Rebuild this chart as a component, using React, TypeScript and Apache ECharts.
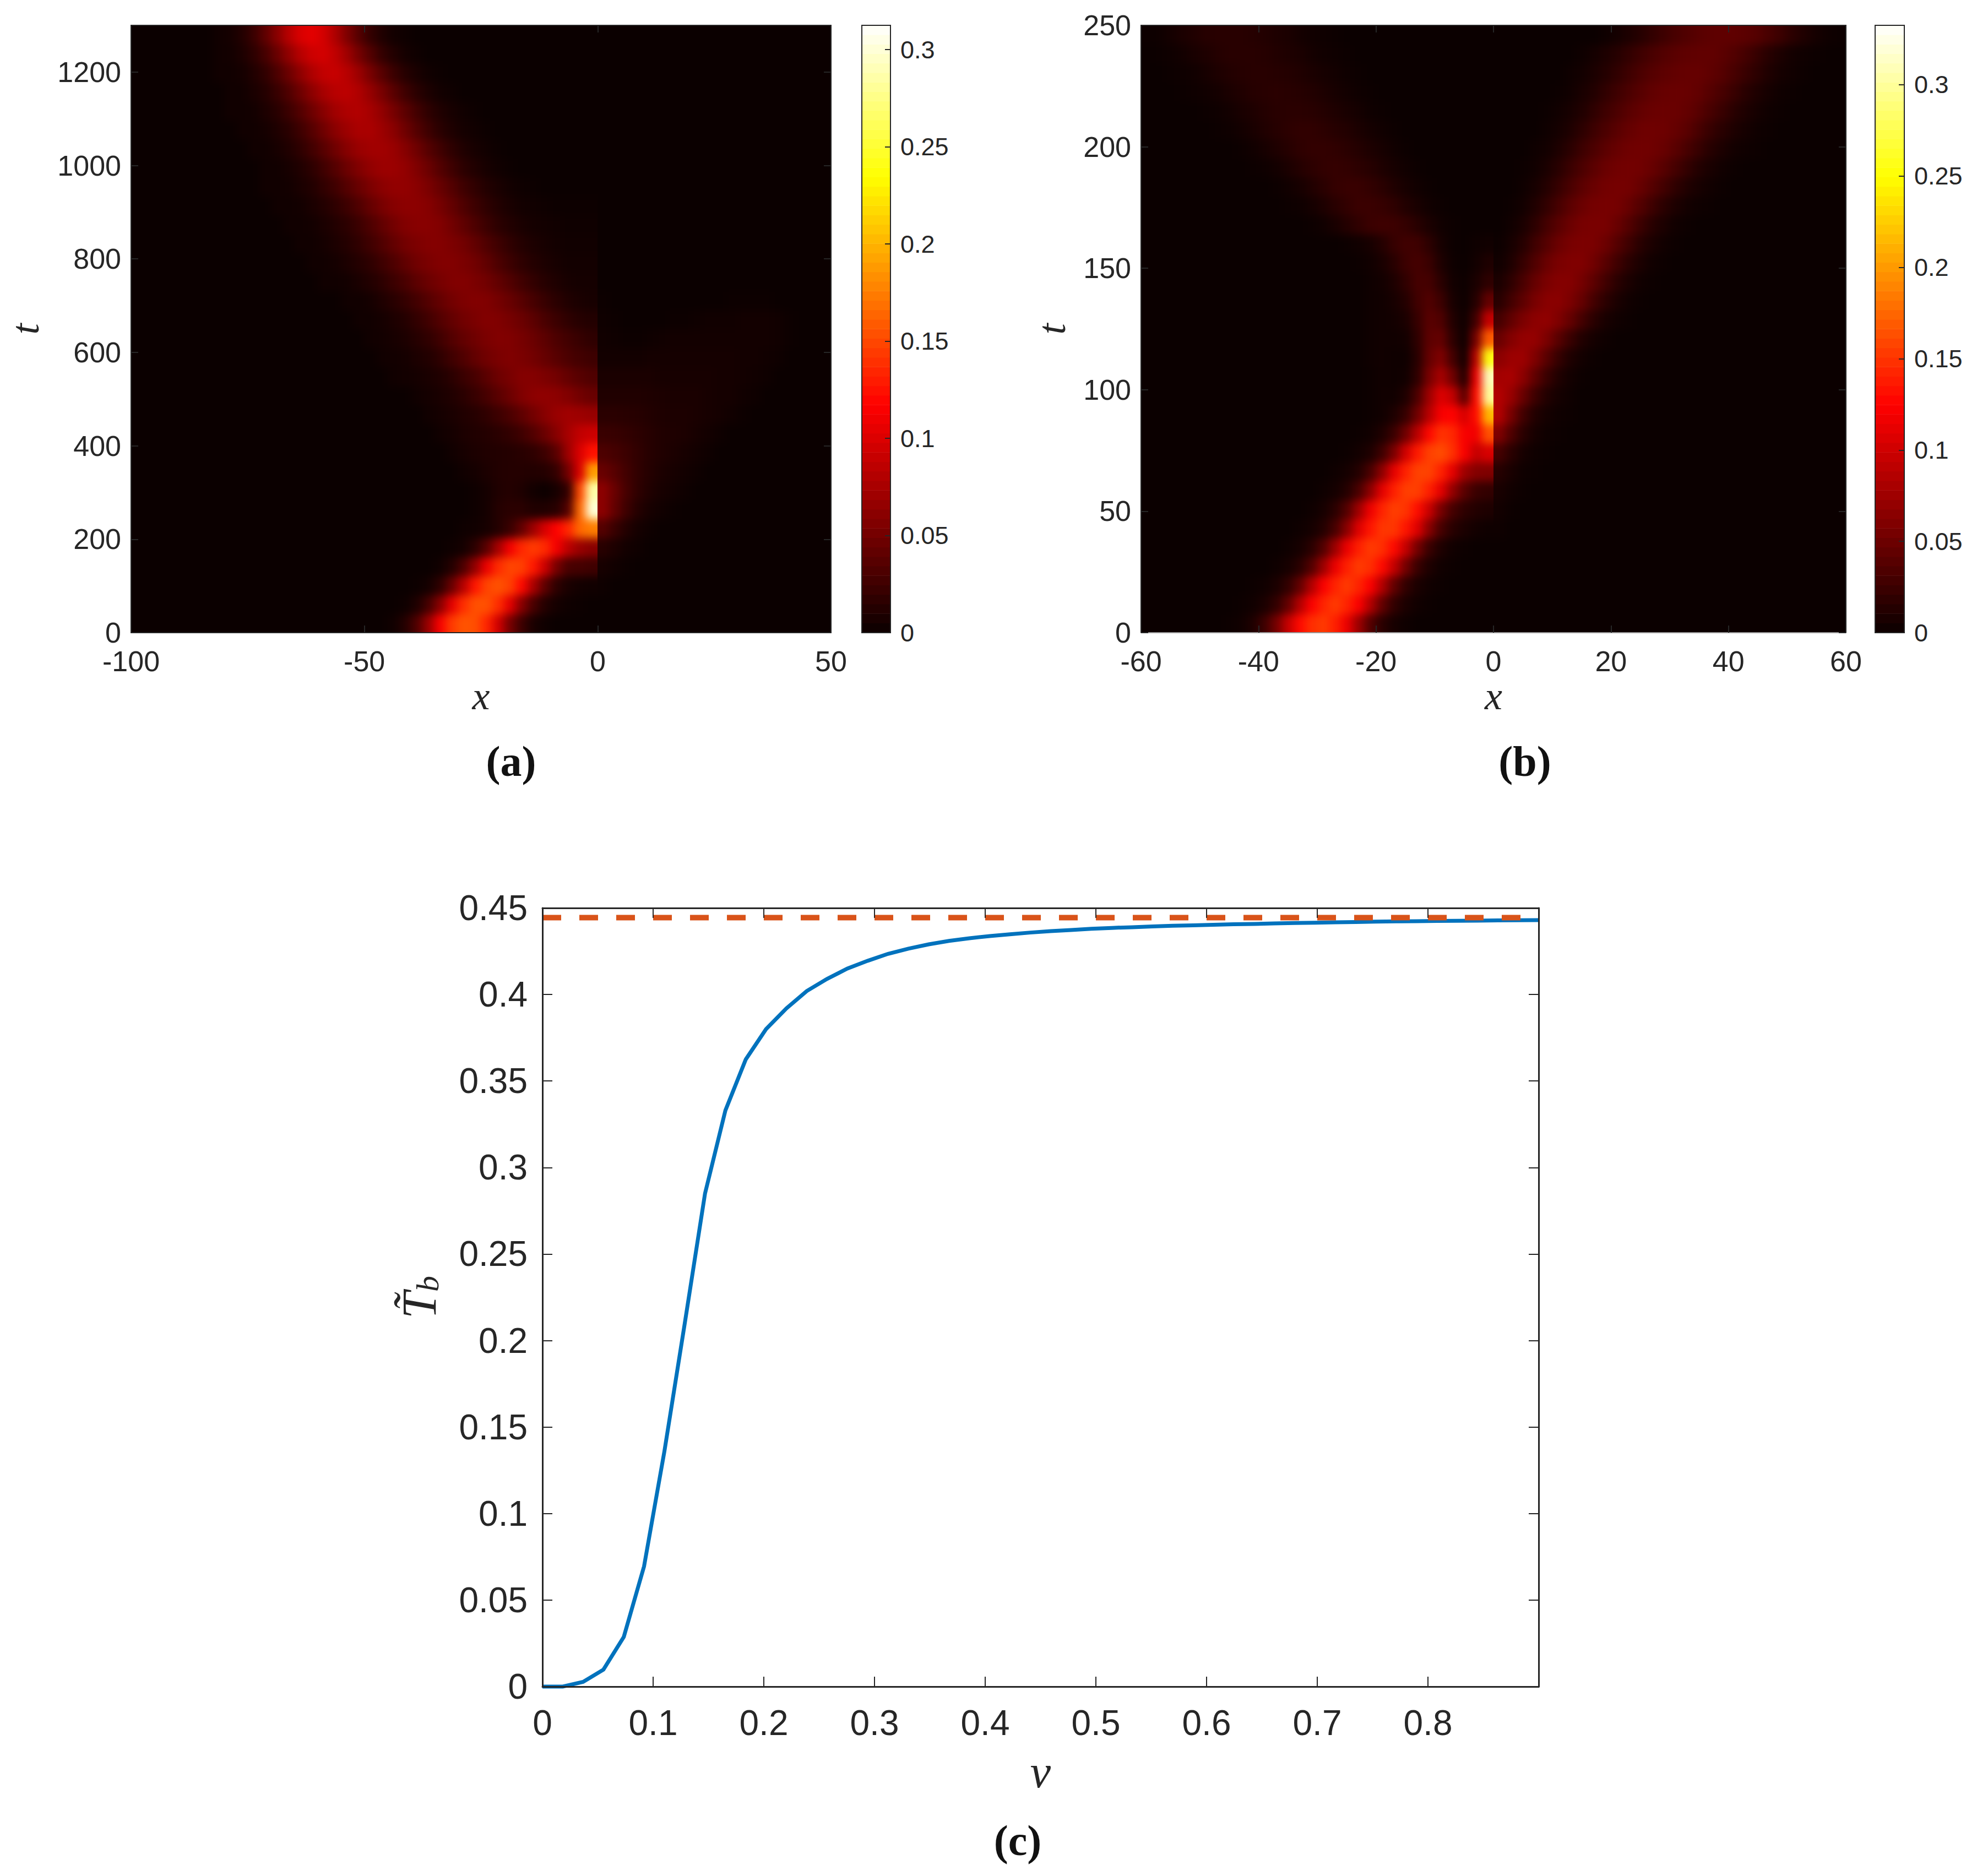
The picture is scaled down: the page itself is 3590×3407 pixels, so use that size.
import React, { useEffect, useRef } from "react";
import * as echarts from "echarts";

// ---------- colour map (MATLAB "hot") ----------
const HOT = ["#0b0000", "#5c0000", "#ae0000", "#ff0000", "#ff5500", "#ffaa00", "#ffff00", "#ffff80", "#ffffff"];

// ---------- panel (a): |field| in thousandths, rows bottom (t≈20) to top (t≈1280); [firstColumn, ...values]
const A_MAX = 0.3125;
const A_LEFT_COLS = 40; // x from -100 to 0
const A_RIGHT_COLS = 20; // x from 0 to 50
const A_LEFT: number[][] = [
  [22, 3, 12, 33, 68, 114, 144, 156, 153, 134, 95, 52, 24, 7, 2],
  [23, 2, 9, 28, 60, 104, 138, 154, 154, 138, 104, 60, 30, 12, 5, 2, 1],
  [24, 1, 5, 17, 45, 82, 127, 148, 155, 146, 121, 76, 40, 17, 7, 4, 3],
  [26, 3, 12, 32, 65, 108, 137, 149, 146, 128, 92, 52, 30, 28, 25],
  [27, 2, 5, 16, 38, 74, 112, 135, 144, 136, 112, 85, 68, 60],
  [28, 2, 3, 6, 12, 22, 42, 70, 98, 118, 135, 165, 175],
  [29, 2, 5, 12, 15, 15, 10, 10, 14, 35, 165, 300],
  [29, 2, 5, 10, 12, 9, 4, 1, 6, 20, 150, 285],
  [28, 3, 5, 8, 11, 12, 12, 11, 12, 20, 50, 100, 190],
  [27, 3, 6, 8, 10, 11, 12, 14, 17, 24, 38, 70, 100, 125],
  [26, 3, 5, 8, 10, 12, 15, 19, 25, 34, 46, 60, 75, 88, 92],
  [25, 3, 5, 7, 10, 13, 18, 24, 31, 40, 50, 60, 68, 72, 70, 67],
  [24, 3, 5, 7, 10, 15, 21, 29, 38, 47, 56, 62, 64, 62, 57, 50, 45],
  [22, 3, 4, 5, 7, 10, 15, 22, 29, 38, 47, 53, 58, 58, 55, 50, 43, 37, 33],
  [21, 3, 4, 5, 8, 11, 17, 25, 33, 42, 49, 54, 56, 54, 50, 44, 37, 31, 27, 24],
  [20, 3, 4, 6, 8, 13, 18, 25, 34, 42, 48, 54, 57, 56, 52, 46, 39, 32, 26, 21, 17],
  [19, 3, 3, 5, 8, 12, 19, 26, 34, 42, 49, 54, 57, 56, 52, 46, 39, 30, 23, 17, 13, 11],
  [18, 3, 3, 5, 9, 14, 20, 27, 35, 43, 50, 55, 57, 56, 51, 45, 37, 29, 21, 15, 10, 7, 6],
  [16, 3, 3, 4, 7, 11, 16, 23, 30, 39, 46, 52, 56, 57, 54, 49, 42, 34, 26, 19, 13, 9, 6, 5, 5],
  [15, 3, 3, 5, 8, 12, 17, 24, 32, 41, 49, 54, 57, 57, 54, 49, 41, 32, 24, 17, 12, 8, 6, 4, 4, 4],
  [14, 3, 3, 5, 8, 12, 18, 25, 33, 42, 50, 55, 58, 58, 55, 50, 42, 33, 25, 18, 12, 8, 6, 4, 3, 3, 3],
  [13, 3, 3, 4, 7, 11, 16, 23, 32, 41, 50, 57, 60, 60, 57, 50, 41, 32, 23, 16, 11, 7, 5, 4, 3, 2, 2, 2],
  [12, 3, 3, 4, 7, 11, 17, 24, 33, 43, 52, 59, 62, 62, 59, 52, 43, 33, 24, 17, 11, 7, 4, 3, 2, 1, 1, 1, 1],
  [11, 3, 3, 4, 7, 11, 18, 25, 35, 45, 54, 61, 65, 65, 61, 54, 45, 35, 25, 18, 11, 7, 4, 2, 1],
  [11, 3, 3, 6, 10, 16, 25, 35, 46, 56, 65, 69, 69, 65, 56, 46, 35, 25, 16, 10, 6, 3, 1],
  [10, 3, 3, 6, 10, 17, 26, 36, 48, 59, 68, 72, 72, 68, 59, 48, 36, 26, 17, 10, 6, 3, 1],
  [9, 3, 3, 5, 9, 15, 24, 35, 48, 61, 70, 76, 76, 70, 61, 48, 35, 24, 15, 9, 5, 3, 1],
  [8, 3, 3, 4, 8, 14, 23, 34, 47, 60, 72, 78, 80, 75, 65, 52, 39, 27, 17, 10, 6, 3, 1],
  [8, 3, 3, 7, 12, 21, 33, 47, 62, 75, 83, 85, 79, 67, 53, 38, 25, 15, 8, 4, 2],
  [7, 3, 3, 5, 10, 18, 31, 46, 63, 78, 88, 90, 83, 70, 53, 37, 23, 13, 7, 3, 1],
  [7, 3, 4, 8, 16, 28, 45, 64, 82, 93, 96, 87, 72, 52, 35, 20, 11, 5, 2],
  [7, 3, 5, 11, 22, 40, 60, 82, 99, 104, 96, 78, 56, 36, 20, 10, 4, 2],
];
const A_RIGHT: number[][] = [
  [0], [0], [0, 2], [0, 6, 3, 1], [0, 14, 8, 4, 2], [0, 35, 22, 11, 5, 2],
  [0, 62, 42, 24, 12, 6, 3, 1],
  [0, 62, 45, 28, 17, 10, 6, 4, 2],
  [0, 45, 36, 26, 18, 12, 8, 6, 4, 2],
  [0, 32, 28, 23, 18, 13, 10, 8, 6, 4, 2],
  [0, 22, 21, 19, 16, 13, 10, 9, 8, 6, 4, 2],
  [0, 15, 15, 14, 13, 11, 9, 8, 8, 7, 6, 5, 3, 1],
  [0, 10, 10, 10, 10, 9, 8, 7, 7, 7, 6, 5, 5, 3, 2],
  [0, 7, 7, 7, 7, 7, 6, 6, 6, 6, 6, 5, 5, 4, 3, 2],
  [0, 4, 4, 4, 4, 5, 5, 5, 5, 5, 5, 5, 5, 4, 4, 3, 2],
  [0, 3, 2, 1, 1, 2, 3, 4, 4, 4, 4, 4, 4, 4, 4, 4, 3, 1],
  [0, 2, 1, 0, 0, 0, 0, 1, 1, 2, 3, 3, 3, 4, 4, 4, 3, 1],
  [0, 1, 0, 0, 0, 0, 0, 0, 0, 0, 0, 0, 1, 1, 1, 1],
  [0], [0], [0], [0], [0], [0], [0], [0], [0], [0], [0], [0], [0], [0],
];

// ---------- panel (b) ----------
const B_MAX = 0.3325;
const B_LEFT_COLS = 30; // x from -60 to 0
const B_RIGHT_COLS = 30; // x from 0 to 60
const B_LEFT: number[][] = [
  [7, 1, 3, 10, 26, 54, 95, 129, 147, 153, 140, 115, 74, 37, 16, 6, 2],
  [8, 1, 3, 8, 20, 45, 85, 123, 142, 153, 142, 123, 85, 45, 20, 8, 3, 1],
  [9, 1, 3, 8, 20, 45, 85, 123, 142, 153, 142, 123, 85, 45, 20, 8, 3, 1],
  [11, 2, 6, 16, 37, 74, 115, 140, 153, 147, 129, 95, 54, 24, 10, 3, 1],
  [12, 2, 6, 16, 37, 74, 115, 140, 153, 147, 129, 95, 54, 24, 10, 3, 1],
  [13, 2, 5, 13, 31, 64, 108, 135, 151, 151, 135, 108, 64, 31, 15, 8, 4, 2],
  [14, 2, 6, 16, 37, 75, 117, 142, 155, 150, 131, 97, 56, 30, 18, 12, 9],
  [15, 2, 5, 13, 32, 66, 111, 140, 155, 155, 140, 111, 70, 40, 24, 20],
  [16, 2, 5, 13, 32, 67, 112, 141, 157, 157, 141, 112, 75, 62, 60],
  [17, 1, 4, 10, 26, 57, 101, 137, 156, 162, 148, 122, 95, 105],
  [18, 1, 3, 10, 24, 51, 88, 128, 149, 144, 121, 118, 165],
  [19, 1, 3, 9, 22, 51, 88, 121, 126, 104, 130, 215],
  [19, 1, 3, 3, 10, 33, 75, 108, 94, 40, 130, 300],
  [19, 1, 3, 2, 3, 18, 56, 80, 52, 12, 115, 310],
  [19, 2, 3, 2, 2, 15, 46, 60, 30, 4, 90, 255],
  [19, 2, 3, 3, 4, 18, 42, 45, 18, 2, 55, 170],
  [19, 2, 3, 4, 8, 22, 40, 35, 12, 2, 28, 95],
  [19, 2, 3, 6, 13, 27, 36, 25, 7, 1, 14, 45],
  [19, 2, 4, 9, 19, 30, 30, 16, 4, 1, 8, 18],
  [18, 1, 3, 7, 15, 25, 30, 24, 10, 2, 0, 4, 10],
  [17, 1, 3, 6, 13, 22, 27, 26, 17, 6, 1, 0, 2, 3],
  [14, 1, 3, 7, 13, 19, 24, 26, 25, 21, 15, 8, 3, 1],
  [12, 1, 2, 5, 9, 15, 20, 24, 24, 22, 18, 12, 7, 3, 1],
  [11, 1, 3, 6, 11, 16, 21, 23, 23, 20, 16, 11, 6, 3, 1],
  [9, 1, 2, 4, 8, 13, 17, 20, 21, 20, 17, 14, 10, 6, 3, 1],
  [8, 1, 3, 6, 10, 14, 18, 20, 20, 19, 16, 13, 9, 6, 3, 1],
  [6, 1, 2, 4, 7, 11, 14, 17, 19, 19, 17, 14, 12, 8, 5, 3, 1],
  [5, 1, 2, 4, 7, 10, 13, 15, 16, 16, 15, 13, 10, 7, 5, 2, 1],
  [3, 1, 2, 3, 5, 8, 11, 14, 15, 16, 15, 14, 12, 9, 6, 4, 2, 1],
  [2, 1, 2, 3, 6, 9, 12, 14, 15, 15, 14, 13, 11, 8, 6, 4, 2, 1],
  [1, 1, 2, 4, 7, 10, 13, 15, 15, 15, 14, 12, 10, 8, 5, 3, 2, 1],
  [0, 1, 2, 5, 8, 11, 14, 15, 15, 15, 14, 12, 10, 8, 5, 3, 2, 1],
];
const B_RIGHT: number[][] = [
  [0], [0], [0], [0], [0],
  [0, 2],
  [0, 4, 1],
  [0, 7, 3, 1],
  [0, 14, 7, 2, 1],
  [0, 30, 16, 6, 2, 1],
  [0, 60, 35, 16, 6, 2, 1],
  [0, 85, 55, 28, 12, 5, 2, 1],
  [0, 85, 72, 48, 26, 12, 5, 2],
  [0, 78, 80, 66, 44, 24, 11, 4, 1],
  [0, 66, 74, 74, 60, 40, 22, 10, 4, 1],
  [0, 48, 62, 70, 70, 58, 40, 24, 12, 5, 2],
  [0, 30, 44, 58, 66, 68, 60, 46, 30, 16, 7, 3, 1],
  [0, 15, 28, 42, 56, 64, 65, 58, 46, 30, 17, 8, 3, 1],
  [0, 8, 18, 32, 46, 57, 62, 62, 54, 42, 28, 16, 8, 3, 1],
  [0, 3, 10, 22, 35, 48, 57, 60, 60, 52, 40, 27, 16, 8, 3, 1],
  [0, 1, 6, 14, 26, 38, 49, 56, 58, 57, 50, 38, 26, 15, 8, 3, 1],
  [0, 0, 3, 8, 17, 29, 40, 49, 55, 57, 56, 48, 37, 25, 15, 8, 3, 1],
  [0, 0, 1, 4, 11, 20, 31, 41, 49, 54, 55, 54, 47, 37, 26, 16, 9, 4, 2, 1],
  [0, 0, 0, 2, 6, 13, 22, 32, 41, 48, 53, 54, 53, 47, 38, 28, 18, 11, 6, 3, 1],
  [0, 0, 0, 1, 3, 8, 15, 24, 33, 41, 48, 52, 53, 52, 47, 39, 30, 20, 12, 7, 3, 1],
  [0, 0, 0, 0, 2, 4, 9, 16, 25, 33, 41, 47, 51, 52, 51, 47, 40, 31, 22, 14, 8, 4, 2, 1],
  [0, 0, 0, 0, 0, 2, 5, 10, 17, 25, 33, 40, 46, 50, 51, 50, 46, 40, 31, 22, 15, 9, 5, 2, 1],
  [0, 0, 0, 0, 0, 1, 3, 6, 11, 18, 26, 33, 40, 45, 48, 49, 48, 45, 39, 31, 23, 15, 9, 5, 2, 1],
  [0, 0, 0, 0, 0, 0, 1, 3, 7, 12, 19, 26, 33, 39, 44, 47, 48, 47, 44, 38, 31, 23, 15, 9, 5, 2, 1],
  [0, 0, 0, 0, 0, 0, 0, 2, 4, 8, 13, 19, 26, 33, 38, 42, 45, 46, 46, 43, 38, 31, 23, 16, 10, 5, 3, 1],
  [7, 2, 5, 9, 14, 20, 26, 32, 37, 41, 43, 44, 44, 41, 36, 29, 21, 14, 8, 4, 2, 1],
  [9, 2, 5, 9, 14, 20, 26, 32, 36, 40, 42, 43, 43, 41, 37, 31, 24, 16, 10, 5, 2, 1],
];

// ---------- panel (c) ----------
const V_VALUES = [0, 0.0184, 0.0367, 0.0551, 0.0735, 0.0918, 0.1102, 0.1286, 0.1469, 0.1653, 0.1837, 0.202, 0.2204, 0.2388, 0.2571, 0.2755, 0.2939, 0.3122, 0.3306, 0.349, 0.3673, 0.3857, 0.4041, 0.4224, 0.4408, 0.4592, 0.4776, 0.4959, 0.5143, 0.5327, 0.551, 0.5694, 0.5878, 0.6061, 0.6245, 0.6429, 0.6612, 0.6796, 0.698, 0.7163, 0.7347, 0.7531, 0.7714, 0.7898, 0.8082, 0.8265, 0.8449, 0.8633, 0.8816, 0.9];
const TB_VALUES = [0, 0, 0.0027, 0.0098, 0.0287, 0.0695, 0.136, 0.21, 0.285, 0.333, 0.3625, 0.38, 0.392, 0.402, 0.409, 0.415, 0.4195, 0.4235, 0.4265, 0.429, 0.431, 0.4325, 0.4338, 0.4348, 0.4358, 0.4366, 0.4373, 0.438, 0.4385, 0.4389, 0.4393, 0.4397, 0.44, 0.4403, 0.4406, 0.4408, 0.4411, 0.4413, 0.4415, 0.4417, 0.4419, 0.4421, 0.4423, 0.4424, 0.4425, 0.4426, 0.4427, 0.4428, 0.4429, 0.443];
const TB_LIMIT = 0.4444;

// ---------- layout ----------
const INK = "#262626";
const SANS = "Liberation Sans";
const SERIF = "Liberation Serif";
const A = { left: 238, top: 46, width: 1271, height: 1103 };
const B = { left: 2072, top: 46, width: 1280, height: 1103 };
const C = { left: 985, top: 1649, width: 1809, height: 1414 };
const CBA = { left: 1565, top: 46, width: 52, height: 1103 };
const CBB = { left: 3405, top: 46, width: 53, height: 1103 };
const A_ZERO = 1085;
const B_ZERO = 2712;
const BLUR = 8;

type Box = { left: number; top: number; width: number; height: number };

function Heat({ box, rows, cols, max }: { box: Box; rows: number[][]; cols: number; max: number }) {
  const ref = useRef<HTMLDivElement>(null);
  const nRows = rows.length;
  const cellW = box.width / cols;
  const cellH = box.height / nRows;
  useEffect(() => {
    if (!ref.current) return;
    const chart = echarts.init(ref.current, undefined, { renderer: "svg" });
    const dense = rows.map((r) => {
      const out = new Array(cols).fill(0);
      r.slice(1).forEach((v, i) => {
        out[r[0] + i] = v;
      });
      return out;
    });
    const data: number[][] = [];
    // one repeated cell round the edge lies outside the clip, so that the soft edge never shows
    for (let y = -1; y <= nRows; y++) {
      for (let x = -1; x <= cols; x++) {
        const yy = Math.min(nRows - 1, Math.max(0, y));
        const xx = Math.min(cols - 1, Math.max(0, x));
        data.push([x + 1, y + 1, dense[yy][xx] / 1000]);
      }
    }
    chart.setOption({
      animation: false,
      backgroundColor: "#0b0000",
      grid: { left: 0, right: 0, top: 0, bottom: 0 },
      xAxis: { type: "category", show: false, data: Array.from({ length: cols + 2 }, (_, i) => i) },
      yAxis: { type: "category", show: false, data: Array.from({ length: nRows + 2 }, (_, i) => i) },
      visualMap: { show: false, type: "continuous", min: 0, max, dimension: 2, inRange: { color: HOT } },
      series: [{ type: "heatmap", data, silent: true, progressive: 0 }],
    });
    return () => chart.dispose();
  }, []);
  return (
    <div style={{ position: "absolute", left: box.left, top: box.top, width: box.width, height: box.height, overflow: "hidden", background: "#0b0000" }}>
      <div
        ref={ref}
        style={{
          position: "absolute",
          left: -cellW,
          top: -cellH,
          width: box.width + 2 * cellW,
          height: box.height + 2 * cellH,
          filter: `blur(${BLUR}px)`,
        }}
      />
    </div>
  );
}

function valueAxis(gridIndex: number, position: string, min: number, max: number, interval: number, fontSize: number, tick: number, extra: any = {}) {
  return {
    type: "value",
    gridIndex,
    position,
    min,
    max,
    interval,
    z: 5,
    splitLine: { show: false },
    axisLine: { show: true, onZero: false, lineStyle: { color: INK, width: 2 } },
    axisTick: { show: true, inside: true, length: tick, lineStyle: { color: INK, width: 2 } },
    axisLabel: { show: false, fontFamily: SANS, fontSize, color: INK, margin: 18 },
    ...extra,
  };
}

const nameStyle = (fontSize: number) => ({ fontFamily: SERIF, fontStyle: "italic", fontSize, color: INK });
const panelLabel = (margin: number, extra: any = {}) => ({
  show: true,
  fontFamily: SANS,
  fontSize: 52,
  lineHeight: 44,
  color: INK,
  margin,
  formatter: (v: number) => String(v),
  ...extra,
});

function buildOption() {
  const levels = Array.from({ length: 64 }, (_, i) => i);
  const barData = (max: number) => levels.map((k) => [0, k, ((k + 0.5) / 64) * max]);
  const hiddenCatX = (gridIndex: number) => ({ type: "category", gridIndex, show: false, data: [0] });
  const hiddenCatY = (gridIndex: number) => ({ type: "category", gridIndex, show: false, position: "left", data: levels });
  const panelTitle = (text: string, x: number, y: number) => ({
    type: "text",
    z: 20,
    style: { text, x, y, font: `bold 78px "${SERIF}"`, fill: "#111", align: "center", verticalAlign: "middle" },
  });
  const frame = (b: Box) => ({
    type: "rect",
    z: 20,
    shape: { x: b.left, y: b.top, width: b.width, height: b.height },
    style: { fill: "none", stroke: INK, lineWidth: 2 },
  });
  const barAxis = (gridIndex: number, max: number) =>
    valueAxis(gridIndex, "right", 0, max, 0.05, 45, 10, {
      axisLabel: { show: true, fontFamily: SANS, fontSize: 45, color: INK, margin: 18, showMaxLabel: false },
      axisLine: { show: false },
    });
  const cLine = { show: true, onZero: false, lineStyle: { color: INK, width: 3 } };
  return {
    animation: false,
    grid: [A, B, C, CBA, CBB].map((b) => ({ ...b, containLabel: false })),
    xAxis: [
      valueAxis(0, "bottom", -100, 50, 50, 52, 13, {
        axisLabel: panelLabel(30),
        name: "x", nameLocation: "middle", nameGap: 78, nameTextStyle: nameStyle(72),
      }),
      valueAxis(0, "top", -100, 50, 50, 52, 13),
      valueAxis(1, "bottom", -60, 60, 20, 52, 13, {
        axisLine: { show: true, onZero: false, lineStyle: { color: "#999", width: 2 } },
        axisLabel: panelLabel(30),
        name: "x", nameLocation: "middle", nameGap: 78, nameTextStyle: nameStyle(72),
      }),
      valueAxis(1, "top", -60, 60, 20, 52, 13),
      valueAxis(2, "bottom", 0, 0.9, 0.1, 64, 18, {
        axisLine: cLine,
        axisLabel: { show: true, fontFamily: SANS, fontSize: 64, color: INK, margin: 34, showMaxLabel: false },
        name: "v", nameLocation: "middle", nameGap: 112, nameTextStyle: nameStyle(84),
      }),
      valueAxis(2, "top", 0, 0.9, 0.1, 64, 18, { axisLine: cLine }),
      hiddenCatX(3),
      hiddenCatX(4),
    ],
    yAxis: [
      valueAxis(0, "left", 0, 1300, 200, 52, 13, {
        axisLabel: panelLabel(18, { showMaxLabel: false }),
        name: "t", nameLocation: "middle", nameGap: 156, nameTextStyle: nameStyle(72),
      }),
      valueAxis(0, "right", 0, 1300, 200, 52, 13),
      valueAxis(1, "left", 0, 250, 50, 52, 13, {
        axisLabel: panelLabel(18),
        name: "t", nameLocation: "middle", nameGap: 126, nameTextStyle: nameStyle(72),
      }),
      valueAxis(1, "right", 0, 250, 50, 52, 13),
      valueAxis(2, "left", 0, 0.45, 0.05, 64, 18, {
        axisLine: cLine,
        axisLabel: { show: true, fontFamily: SANS, fontSize: 64, color: INK, margin: 27 },
        name: "{t|T\u0303}{s|b}",
        nameLocation: "middle",
        nameGap: 180,
        nameTextStyle: {
          fontFamily: SERIF,
          fontStyle: "italic",
          color: INK,
          rich: {
            t: { fontFamily: SERIF, fontStyle: "italic", fontSize: 88, color: INK },
            s: { fontFamily: SERIF, fontStyle: "italic", fontSize: 58, color: INK, verticalAlign: "bottom", padding: [24, 0, 0, 0] },
          },
        },
      }),
      valueAxis(2, "right", 0, 0.45, 0.05, 64, 18, { axisLine: cLine }),
      hiddenCatY(3),
      barAxis(3, A_MAX),
      hiddenCatY(4),
      barAxis(4, B_MAX),
    ],
    visualMap: [
      { show: false, type: "continuous", min: 0, max: A_MAX, dimension: 2, seriesIndex: 2, inRange: { color: HOT } },
      { show: false, type: "continuous", min: 0, max: B_MAX, dimension: 2, seriesIndex: 3, inRange: { color: HOT } },
    ],
    series: [
      {
        type: "line",
        xAxisIndex: 4,
        yAxisIndex: 4,
        z: 3,
        data: V_VALUES.map((v, i) => [v, TB_VALUES[i]]),
        showSymbol: false,
        silent: true,
        clip: false,
        lineStyle: { color: "#0072BD", width: 7, cap: "butt", join: "miter" },
      },
      {
        type: "line",
        xAxisIndex: 4,
        yAxisIndex: 4,
        z: 4,
        data: [[0, TB_LIMIT], [0.9, TB_LIMIT]],
        showSymbol: false,
        silent: true,
        lineStyle: { color: "#D95319", width: 10, type: [34, 33], cap: "butt" },
      },
      { type: "heatmap", xAxisIndex: 6, yAxisIndex: 6, data: barData(A_MAX), silent: true, progressive: 0 },
      { type: "heatmap", xAxisIndex: 7, yAxisIndex: 8, data: barData(B_MAX), silent: true, progressive: 0 },
    ],
    graphic: {
      elements: [
        frame(CBA),
        frame(CBB),
        panelTitle("(a)", 928, 1382),
        panelTitle("(b)", 2769, 1382),
        panelTitle("(c)", 1848, 3342),
      ],
    },
  };
}

export default function App() {
  const ref = useRef<HTMLDivElement>(null);
  useEffect(() => {
    if (!ref.current) return;
    const chart = echarts.init(ref.current, undefined, { renderer: "svg" });
    chart.setOption(buildOption() as any);
    return () => chart.dispose();
  }, []);
  return (
    <div style={{ position: "absolute", left: 0, top: 0, width: 3590, height: 3407, background: "#fff", overflow: "hidden" }}>
      <Heat box={{ left: A.left, top: A.top, width: A_ZERO - A.left, height: A.height }} rows={A_LEFT} cols={A_LEFT_COLS} max={A_MAX} />
      <Heat box={{ left: A_ZERO, top: A.top, width: A.left + A.width - A_ZERO, height: A.height }} rows={A_RIGHT} cols={A_RIGHT_COLS} max={A_MAX} />
      <Heat box={{ left: B.left, top: B.top, width: B_ZERO - B.left, height: B.height }} rows={B_LEFT} cols={B_LEFT_COLS} max={B_MAX} />
      <Heat box={{ left: B_ZERO, top: B.top, width: B.left + B.width - B_ZERO, height: B.height }} rows={B_RIGHT} cols={B_RIGHT_COLS} max={B_MAX} />
      <div ref={ref} style={{ position: "absolute", left: 0, top: 0, width: 3590, height: 3407 }} />
    </div>
  );
}
